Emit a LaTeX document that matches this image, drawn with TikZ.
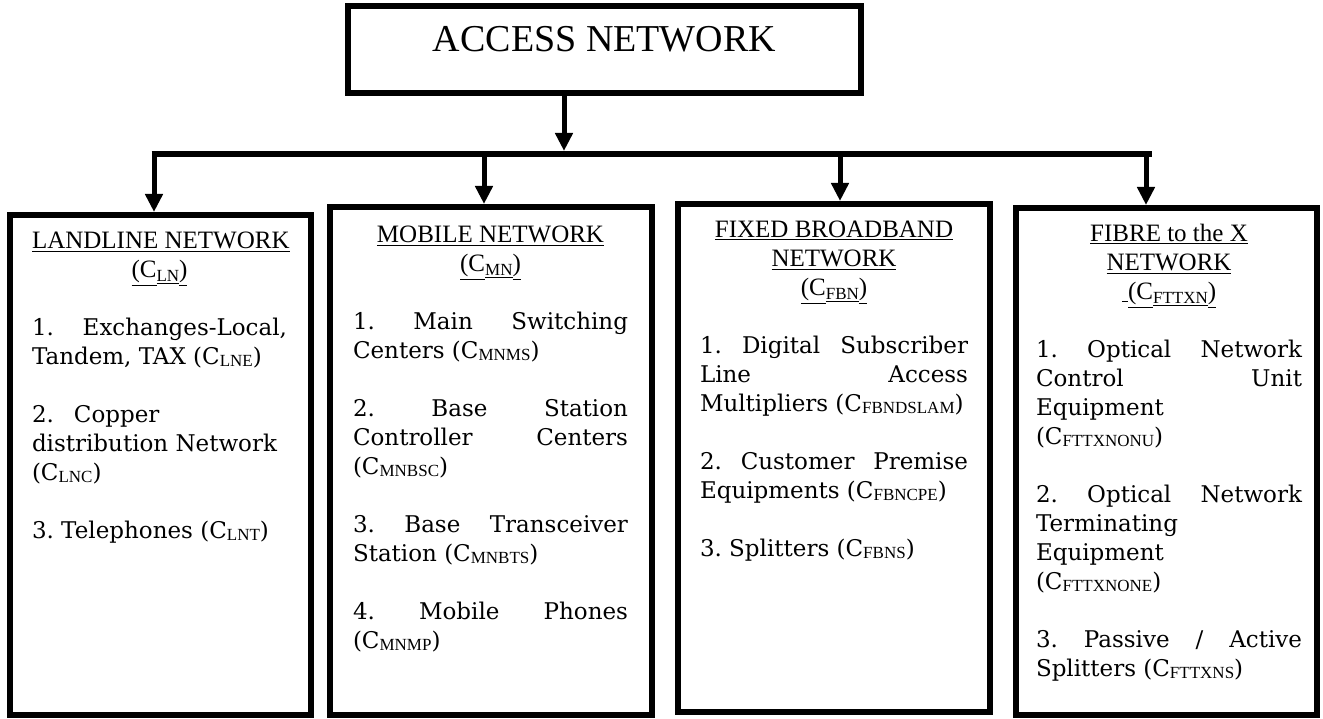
\documentclass[tikz,border=0pt]{standalone}
\usepackage{fontspec}
\setmainfont{DejaVu Serif}
\newfontfamily\headfont{Liberation Serif}
\usetikzlibrary{arrows.meta}
% heading of a network box, centred
\newcommand{\boxhead}[1]{{\centering\headfont\fontsize{25pt}{29pt}\selectfont #1\par}}
% cost symbols
\newcommand{\hcode}[1]{\underline{(C}\raisebox{-4pt}{\underline{\fontsize{17pt}{17pt}\selectfont #1}}\underline{)}}
\newcommand{\bcode}[1]{(C\raisebox{-2pt}{\headfont\fontsize{17pt}{17pt}\selectfont #1})}
\begin{document}
\begin{tikzpicture}[x=1pt,y=-1pt,
  netbox/.style={draw,line width=6pt,inner sep=0pt},
  boxtext/.style={inner sep=0pt,anchor=base,align=justify,font=\fontsize{23pt}{29pt}\selectfont,
    execute at begin node={\setlength{\parskip}{29pt}\frenchspacing\tolerance=10000\hbadness=10000}},
  arr/.style={line width=5pt,-{Triangle[length=18pt,width=17pt]}}]
  \useasboundingbox (0,0) rectangle (1323,719);
  % top box
  \node[netbox,minimum width=513pt,minimum height=87pt] (access) at (604.5,49.5) {};
  \node[inner sep=0pt,anchor=base,font=\headfont\fontsize{38pt}{38pt}\selectfont]
    (accesstitle) at (604.5,52) {ACCESS NETWORK};
  % the four networks
  \node[netbox,minimum width=301pt,minimum height=500pt] (landline) at (160.5,465) {};
  \node[netbox,minimum width=322pt,minimum height=508pt] (mobile) at (491,461) {};
  \node[netbox,minimum width=312pt,minimum height=508pt] (fixed) at (834,458) {};
  \node[netbox,minimum width=301pt,minimum height=507pt] (fibre) at (1166.5,461.5) {};
  \node[boxtext,text width=255pt] (landlinetext) at (159.5,249) {%
    \boxhead{\underline{LANDLINE NETWORK}\\\hcode{LN}}
    1.\hfill Exchanges-Local,\\
    Tandem, TAX \bcode{LNE}\par
    2.\hspace{20pt}Copper\\
    distribution Network\\
    \bcode{LNC}\par
    3. Telephones \bcode{LNT}};
  \node[boxtext,text width=275pt] (mobiletext) at (490.5,243) {%
    \boxhead{\underline{MOBILE NETWORK}\\\hcode{MN}}
    1. Main Switching\linebreak Centers \bcode{MNMS}\par
    2. Base Station\linebreak Controller Centers\linebreak \bcode{MNBSC}\par
    3. Base Transceiver\linebreak Station \bcode{MNBTS}\par
    4. Mobile Phones\linebreak \bcode{MNMP}};
  \node[boxtext,text width=268pt] (fixedtext) at (834,238) {%
    \boxhead{\underline{FIXED BROADBAND}\\\underline{NETWORK}\\\hcode{FBN}}
    1. Digital Subscriber\linebreak Line Access\linebreak Multipliers \bcode{FBNDSLAM}\par
    2. Customer Premise\linebreak Equipments \bcode{FBNCPE}\par
    3. Splitters \bcode{FBNS}};
  \node[boxtext,text width=266pt] (fibretext) at (1169,242) {%
    \boxhead{\underline{FIBRE to the X}\\\underline{NETWORK}\\\underline{\ }\hcode{FTTXN}}
    1. Optical Network\linebreak Control Unit\linebreak Equipment\\
    \bcode{FTTXNONU}\par
    2. Optical Network\linebreak Terminating\\
    Equipment\\
    \bcode{FTTXNONE}\par
    3. Passive / Active\linebreak Splitters \bcode{FTTXNS}};
  % connectors
  \coordinate (split) at (564,151);
  \coordinate (busstart) at (151.5,154);
  \coordinate (busend) at (1152,154);
  \coordinate (landtap) at (154,154);
  \coordinate (mobiletap) at (484,154);
  \coordinate (fixedtap) at (840,154);
  \coordinate (fibretap) at (1146,154);
  \draw[arr] (split |- access.south) -- (split);
  \draw[line width=5.5pt] (busstart) -- (busend);
  \draw[arr] (landtap) -- (landtap |- landline.north);
  \draw[arr] (mobiletap) -- (mobiletap |- mobile.north);
  \draw[arr] (fixedtap) -- (fixedtap |- fixed.north);
  \draw[arr] (fibretap) -- (fibretap |- fibre.north);
\end{tikzpicture}
\end{document}
